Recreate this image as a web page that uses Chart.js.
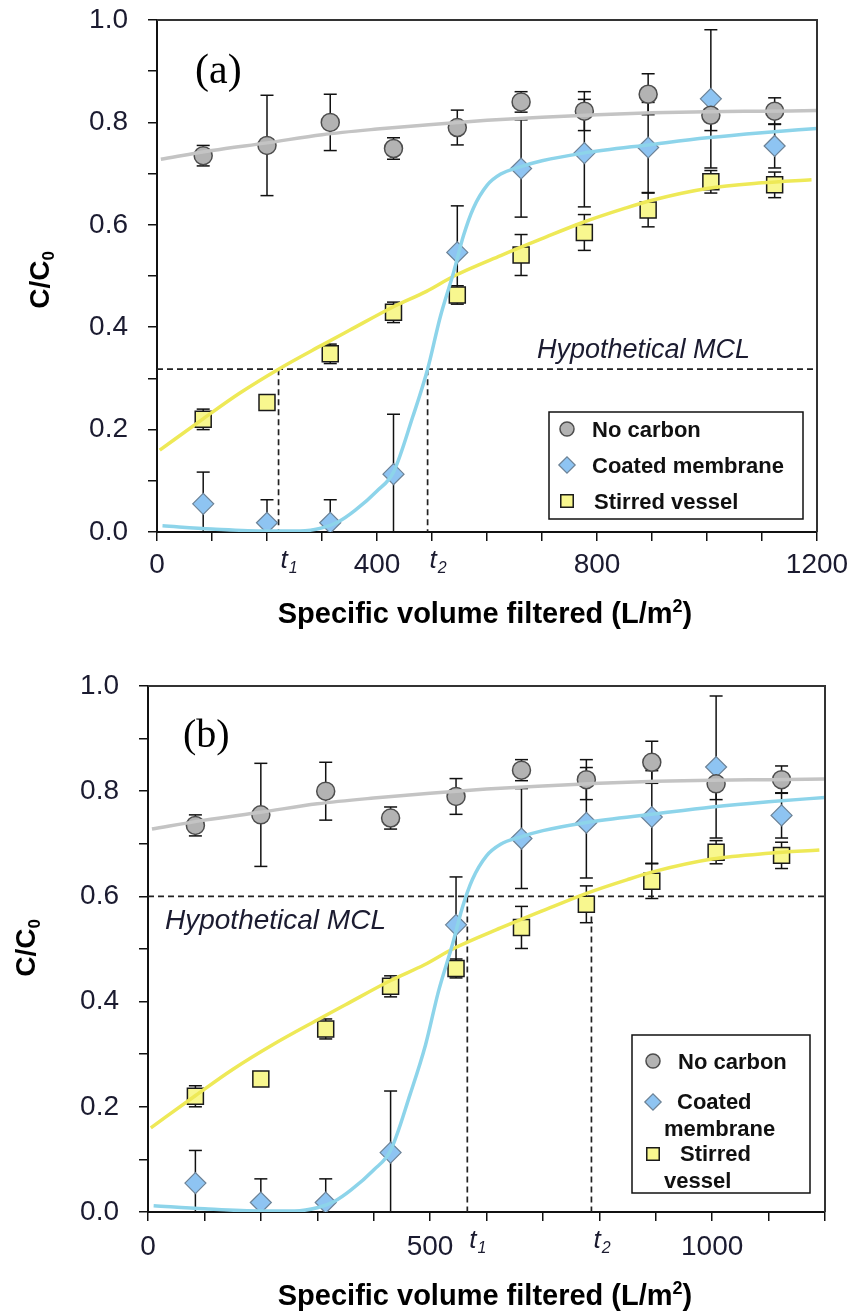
<!DOCTYPE html>
<html>
<head>
<meta charset="utf-8">
<title>C/C0 vs specific volume filtered</title>
<script src="https://cdn.jsdelivr.net/npm/chart.js@4.4.1/dist/chart.umd.min.js"></script>
<style>
  html, body { margin: 0; padding: 0; background: #fff; }
  .panel { position: absolute; left: 0; width: 851px; height: 658px; }
  #panelA { top: 0; }
  #panelB { top: 658px; }
</style>
</head>
<body>
<div class="panel" id="panelA"><canvas id="chartA" width="851" height="658"></canvas></div>
<div class="panel" id="panelB"><canvas id="chartB" width="851" height="658"></canvas></div>
<script>
/* ============================================
   DATA
   ============================================ */
// Specific volume filtered (L/m2) at each sample
const volumes = [84, 200, 315, 430, 546, 662, 777, 893, 1007, 1123];

const noCarbon       = [0.735, 0.755, 0.800, 0.749, 0.790, 0.840, 0.822, 0.855, 0.814, 0.822];
const noCarbonErr    = [0.020, 0.098, 0.055, 0.021, 0.034, 0.020, 0.038, 0.040, 0.030, 0.026];
const coatedMembrane = [0.055, 0.018, 0.018, 0.113, 0.546, 0.710, 0.740, 0.751, 0.846, 0.754];
const coatedErr      = [0.062, 0.045, 0.045, 0.117, 0.091, 0.095, 0.105, 0.088, 0.135, 0.043];
const stirredVessel  = [0.220, 0.253, 0.348, 0.429, 0.463, 0.541, 0.585, 0.629, 0.684, 0.678];
const stirredErr     = [0.020, 0.005, 0.019, 0.020, 0.018, 0.040, 0.035, 0.033, 0.022, 0.025];

// Fitted curves
const fitNoCarbonX = [7, 100, 200, 300, 400, 500, 600, 700, 800, 900, 1000, 1100, 1200];
const fitNoCarbonY = [0.728, 0.745, 0.760, 0.776, 0.787, 0.796, 0.804, 0.810, 0.815, 0.819, 0.821, 0.822, 0.823];
const fitCoatedX = [10, 100, 200, 260, 300, 330, 360, 400, 430, 465, 492, 515, 540, 557, 575, 600, 625, 660, 700, 775, 900, 1000, 1100, 1200];
const fitCoatedY = [0.012, 0.006, 0.002, 0.002, 0.008, 0.020, 0.042, 0.080, 0.117, 0.225, 0.318, 0.420, 0.510, 0.578, 0.632, 0.677, 0.699, 0.713, 0.725, 0.740, 0.757, 0.770, 0.780, 0.788];
const fitStirredX = [5, 85, 150, 221, 300, 350, 430, 490, 540, 625, 700, 775, 850, 900, 1000, 1100, 1190];
const fitStirredY = [0.160, 0.222, 0.271, 0.318, 0.365, 0.394, 0.440, 0.470, 0.500, 0.540, 0.573, 0.605, 0.632, 0.648, 0.671, 0.682, 0.688];

// Axis labels
const yTickLabels = ['0.0', '0.2', '0.4', '0.6', '0.8', '1.0'];
const xTickLabelsA = [0, 400, 800, 1200];
const xTickLabelsB = [0, 500, 1000];

// Hypothetical MCL and the times it is crossed
const mclA = 0.318, t1A = 221, t2A = 492;
const mclB = 0.60,  t1B = 566, t2B = 786;

/* ============================================
   STYLES
   ============================================ */
const FONT = '"Liberation Sans", Arial, sans-serif';
const TICK_COLOR = '#1b1b30';
Chart.defaults.font.family = FONT;

const MARKERS = {
    noCarbon: { pointStyle: 'circle',  radius: 9,    bg: '#b3b3b3', border: '#4d4d4d', bw: 1.5 },
    coated:   { pointStyle: 'rectRot', radius: 10.5, bg: '#8ec4f2', border: '#6c8296', bw: 1.2 },
    stirred:  { pointStyle: 'rect',    radius: 11.3, bg: '#f8f78f', border: '#1a1a1a', bw: 1.5 }
};

const errorSets = [
    [noCarbon, noCarbonErr],
    [coatedMembrane, coatedErr],
    [stirredVessel, stirredErr]
];

function line(ctx, x1, y1, x2, y2) {
    ctx.beginPath();
    ctx.moveTo(x1, y1);
    ctx.lineTo(x2, y2);
    ctx.stroke();
}

function marker(ctx, key, x, y, scale) {
    const m = MARKERS[key];
    ctx.save();
    ctx.fillStyle = m.bg;
    ctx.strokeStyle = m.border;
    ctx.lineWidth = m.bw;
    Chart.helpers.drawPoint(ctx, { pointStyle: m.pointStyle, radius: m.radius * scale, rotation: 0, borderWidth: m.bw }, x, y);
    ctx.restore();
}

/* ============================================
   DECORATION PLUGIN (MCL lines, error bars, texts, legend)
   ============================================ */
const panelDecor = {
    id: 'panelDecor',
    beforeDatasetsDraw(chart, args, o) {
        const { ctx, chartArea: ca, scales: { x, y } } = chart;
        ctx.save();
        // dashed MCL line and t1 / t2 drops
        ctx.strokeStyle = '#222';
        ctx.lineWidth = 1.7;
        ctx.setLineDash([6, 4]);
        const ym = y.getPixelForValue(o.mcl);
        line(ctx, ca.left, ym, ca.right, ym);
        [o.t1, o.t2].forEach(t => {
            const xp = x.getPixelForValue(t);
            line(ctx, xp, ym, xp, ca.bottom);
        });
        ctx.setLineDash([]);

        // error bars
        ctx.strokeStyle = '#111';
        ctx.lineWidth = 1.5;
        errorSets.forEach(([vals, errs]) => {
            vals.forEach((v, i) => {
                const xp = x.getPixelForValue(volumes[i]);
                const hi = v + errs[i], lo = v - errs[i];
                const yh = y.getPixelForValue(hi);
                const yl = y.getPixelForValue(Math.max(lo, 0));
                line(ctx, xp, yh, xp, yl);
                line(ctx, xp - 6.5, yh, xp + 6.5, yh);
                if (lo >= 0) line(ctx, xp - 6.5, yl, xp + 6.5, yl);
            });
        });
        ctx.restore();
    },
    afterDraw(chart, args, o) {
        const { ctx, chartArea: ca, scales: { x } } = chart;
        ctx.save();

        // top and right frame
        ctx.strokeStyle = '#333';
        ctx.lineWidth = 2;
        ctx.beginPath();
        ctx.moveTo(ca.left, ca.top);
        ctx.lineTo(ca.right, ca.top);
        ctx.lineTo(ca.right, ca.bottom);
        ctx.stroke();

        ctx.fillStyle = '#000';
        ctx.textAlign = 'left';
        ctx.textBaseline = 'alphabetic';

        // panel tag
        ctx.font = o.tagSize + 'px "Liberation Serif", "Times New Roman", serif';
        ctx.fillText(o.tag, o.tagPos[0], o.tagPos[1]);

        // MCL text
        ctx.fillStyle = '#1b1b30';
        ctx.font = 'italic ' + o.mclSize + 'px ' + FONT;
        ctx.fillText('Hypothetical MCL', o.mclText[0], o.mclText[1]);

        // t1 / t2 tick labels
        [[o.t1, '1'], [o.t2, '2']].forEach(([t, s]) => {
            const xp = x.getPixelForValue(t) + 2;
            ctx.font = 'italic 26px ' + FONT;
            ctx.fillText('t', xp, o.tBase);
            const w = ctx.measureText('t').width;
            ctx.font = 'italic 16px ' + FONT;
            ctx.fillText(s, xp + w + 1, o.tBase + 5);
        });

        // y axis title C/C0
        ctx.fillStyle = '#000';
        ctx.save();
        ctx.translate(o.yTitle[0], o.yTitle[1]);
        ctx.rotate(-Math.PI / 2);
        ctx.font = 'bold 28px ' + FONT;
        const w1 = ctx.measureText('C/C').width;
        ctx.font = 'bold 17px ' + FONT;
        const w2 = ctx.measureText('0').width;
        const start = -(w1 + w2) / 2;
        ctx.font = 'bold 28px ' + FONT;
        ctx.fillText('C/C', start, 10);
        ctx.font = 'bold 17px ' + FONT;
        ctx.fillText('0', start + w1, 15);
        ctx.restore();

        // x axis title with superscript
        ctx.font = 'bold 29px ' + FONT;
        const a = 'Specific volume filtered (L/m', c = ')';
        const wa = ctx.measureText(a).width, wc = ctx.measureText(c).width;
        ctx.font = 'bold 18px ' + FONT;
        const wb = ctx.measureText('2').width;
        let xs = o.xTitle[0] - (wa + wb + wc) / 2;
        ctx.font = 'bold 29px ' + FONT;
        ctx.fillText(a, xs, o.xTitle[1]);
        ctx.font = 'bold 18px ' + FONT;
        ctx.fillText('2', xs + wa, o.xTitle[1] - 11);
        ctx.font = 'bold 29px ' + FONT;
        ctx.fillText(c, xs + wa + wb, o.xTitle[1]);

        // legend
        const lg = o.legend;
        ctx.strokeStyle = '#111';
        ctx.lineWidth = 1.5;
        ctx.strokeRect(lg.box[0], lg.box[1], lg.box[2] - lg.box[0], lg.box[3] - lg.box[1]);
        ctx.font = 'bold 22px ' + FONT;
        ctx.fillStyle = '#111';
        lg.items.forEach(it => {
            marker(ctx, it.m, it.mx, it.my, 0.78);
            it.lines.forEach(([txt, tx, ty]) => ctx.fillText(txt, tx, ty + 8));
        });

        ctx.restore();
    }
};

/* ============================================
   PANEL BUILDER
   ============================================ */
function curve(xs, ys, color) {
    return {
        type: 'line',
        data: xs.map((v, i) => ({ x: v, y: ys[i] })),
        borderColor: color,
        borderWidth: 3.5,
        pointRadius: 0,
        fill: false,
        cubicInterpolationMode: 'monotone',
        order: 0
    };
}

function points(vals, key) {
    const m = MARKERS[key];
    return {
        type: 'scatter',
        data: volumes.map((v, i) => ({ x: v, y: vals[i] })),
        pointStyle: m.pointStyle,
        pointRadius: m.radius,
        pointBackgroundColor: m.bg,
        pointBorderColor: m.border,
        pointBorderWidth: m.bw,
        order: 1
    };
}

function buildPanel(canvasId, p) {
    const tickGrid = { drawOnChartArea: false, drawTicks: true, tickLength: 9, color: '#111', lineWidth: 1.5 };
    return new Chart(document.getElementById(canvasId), {
        type: 'scatter',
        data: {
            datasets: [
                curve(fitNoCarbonX, fitNoCarbonY, '#c4c4c4'),
                curve(fitCoatedX, fitCoatedY, '#8dd4ea'),
                curve(fitStirredX, fitStirredY, '#eee957'),
                points(noCarbon, 'noCarbon'),
                points(coatedMembrane, 'coated'),
                points(stirredVessel, 'stirred')
            ]
        },
        options: {
            responsive: false,
            animation: false,
            layout: { padding: p.padding },
            plugins: {
                legend: { display: false },
                tooltip: { enabled: false },
                panelDecor: p
            },
            scales: {
                x: {
                    type: 'linear',
                    min: 0,
                    max: 1200,
                    afterFit: s => {
                        s.height = p.xAxisHeight;
                        s.paddingLeft = 0;
                        s.paddingRight = 0;
                    },
                    ticks: {
                        stepSize: 100,
                        autoSkip: false,
                        maxRotation: 0,
                        padding: p.xTickPad,
                        color: TICK_COLOR,
                        font: { size: 28 },
                        callback: v => p.xLabels.includes(v) ? String(v) : ''
                    },
                    grid: tickGrid,
                    border: { color: '#111', width: 2 }
                },
                y: {
                    min: 0,
                    max: 1,
                    afterFit: s => {
                        // keep the plot box where the figure has it
                        s.width = p.yAxisWidth;
                        s.paddingTop = 0;
                        s.paddingBottom = 0;
                    },
                    ticks: {
                        stepSize: 0.1,
                        autoSkip: false,
                        padding: 20,
                        color: TICK_COLOR,
                        font: { size: 28 },
                        callback: v => {
                            const s = v.toFixed(1);
                            return yTickLabels.includes(s) ? s : '';
                        }
                    },
                    grid: tickGrid,
                    border: { color: '#111', width: 2 }
                }
            }
        },
        plugins: [panelDecor]
    });
}

buildPanel('chartA', {
    padding: { top: 20, right: 34, left: 0, bottom: 0 },
    yAxisWidth: 157, xAxisHeight: 126, xTickPad: 7, xLabels: xTickLabelsA,
    mcl: mclA, t1: t1A, t2: t2A,
    tag: '(a)', tagPos: [195, 83], tagSize: 42,
    mclText: [537, 358], mclSize: 27,
    tBase: 568,
    yTitle: [39, 280], xTitle: [485, 623],
    legend: {
        box: [549, 412, 803, 519],
        items: [
            { m: 'noCarbon', mx: 567, my: 429, lines: [['No carbon', 592, 429]] },
            { m: 'coated',   mx: 567, my: 465, lines: [['Coated membrane', 592, 465]] },
            { m: 'stirred',  mx: 567, my: 501, lines: [['Stirred vessel', 594, 501]] }
        ]
    }
});

buildPanel('chartB', {
    padding: { top: 28, right: 26, left: 0, bottom: 0 },
    yAxisWidth: 148, xAxisHeight: 104, xTickPad: 9, xLabels: xTickLabelsB,
    mcl: mclB, t1: t1B, t2: t2B,
    tag: '(b)', tagPos: [183, 89], tagSize: 40,
    mclText: [165, 271], mclSize: 28,
    tBase: 590,
    yTitle: [25, 290], xTitle: [485, 647],
    legend: {
        box: [632, 377, 810, 535],
        items: [
            { m: 'noCarbon', mx: 653, my: 403, lines: [['No carbon', 678, 403]] },
            { m: 'coated',   mx: 653, my: 444, lines: [['Coated', 677, 443], ['membrane', 664, 470]] },
            { m: 'stirred',  mx: 653, my: 496, lines: [['Stirred', 680, 495], ['vessel', 664, 522]] }
        ]
    }
});
</script>
</body>
</html>
